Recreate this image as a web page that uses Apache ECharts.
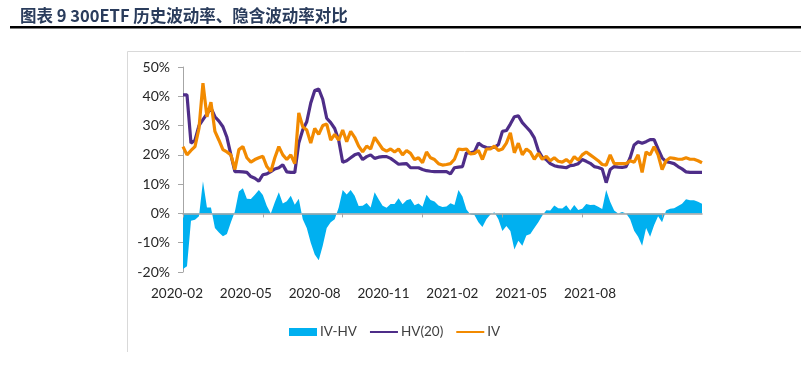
<!DOCTYPE html>
<html><head><meta charset="utf-8">
<script src="https://cdn.jsdelivr.net/npm/echarts@6/dist/echarts.min.js"></script>
<style>html,body{margin:0;padding:0;background:#fff}#c{width:801px;height:367px}</style>
</head><body><div id="c"></div>
<script>
const titleText = '图表 9 300ETF 历史波动率、隐含波动率对比';
const dateLabels = ['2020-02','2020-05','2020-08','2020-11','2021-02','2021-05','2021-08'];
const seriesNames = ['IV-HV','HV(20)','IV'];
const yMin = -20, yMax = 50, yStep = 10;

const hv = [40.5,40.5,24,25,30,32,34,36,33,31.5,
29.6,26,20,14.3,14.3,14.2,14,12.6,12,11,
13.2,13.5,14.3,15.2,15.6,16.6,14.2,14,14,24,
28.6,31.3,37.7,42,42.5,39,32.5,31,29,25,
17.5,18,19,20,20.5,18.4,19.4,20,18.8,19.2,
19.4,19.4,18.8,17.8,16.8,16.9,17,15.6,15.6,15.6,
15,14.6,14.4,14.3,14.3,14.3,14.3,13.5,15.6,15.8,
16,20.7,20.7,21,24,23,22.5,22.4,22.6,23.5,
28,28.3,30.5,33,33.3,31,29.5,28,25.8,21.5,
19.2,18.4,17,16.3,16,15.8,15.6,16.3,16.5,17,
18.4,17.8,17.1,16,15.7,15.2,10.5,15,16,15.8,
15.7,16,19,23.4,24.5,24,24.5,25.2,25.2,22,
19,17.7,17.4,17,16,15.2,14.2,14,14,14,14];

const iv = [22.8,20,21.5,22.8,29,44.5,33,38,28,25,
21.8,21,20,15,21.8,22.8,19,17.5,18.4,19,
19.5,16,14.3,19,22.8,20,18.4,20,17,34.3,
29.6,28.5,24,29,27,30,30.5,25,27,25,
28.5,24.5,28,26,23,21,23,22,26,24,
22,21.3,22,21,22,20,21.5,20.5,18.4,19,
17.3,21,19,18.4,17,16.5,16.7,17,18.5,22,
21.8,22,20.3,20.5,21.5,18.4,22,22,23,21.5,
22,24,27.5,20.7,24,20,22,21,18.5,20.5,
18.5,19.5,18,19,17.8,17.5,18.4,17.3,19.4,18.2,
20,21,20,19,18,16.7,16.5,20,17,17,
17,17,18,17.5,20,14,21,20,22.8,20,
15,18,19,18.8,18.5,18.5,19,18.5,18.5,18,17.3];

const ivhv = [-19,-18,-2.5,-2.2,-1,11,2,2,-5,-6.5,
-7.8,-7,-3,0.7,7.5,8.6,5,4.9,6.4,8,
6.3,2.5,0,3.8,7.2,3.4,4.2,6,3,5,
-2,-5,-10,-14,-16,-11,-5,-3,-2,2,
8,6.5,8,6,2.5,2.6,3.6,2,7.2,4.8,
2.6,1.9,3.2,3.2,5.2,3.1,4.5,4.9,2.8,3.4,
2.3,6.4,4.6,4.1,2.7,2.2,2.4,3.5,2.9,8,
5.8,1.3,-0.4,-0.5,-3,-4.6,-2,-0.4,0.4,-2,
-6,-4.3,-6,-12.3,-9.3,-11,-7.5,-7,-5,-3,
-0.7,1.1,1,2.7,1.8,1.7,2.8,1,2.9,1.2,
1.6,3.2,2.9,3,2.3,1.5,8,4,1,0,
0.5,0,-2,-5.9,-8,-11,-5,-8,-4,-1,
-3,1,1.6,1.8,2.5,3.3,4.8,4.5,4.5,4,3.3];

const days = hv.map((_, i) => String(i));
const FONT = 'Lato';
const chart = echarts.init(document.getElementById('c'), null, {renderer: 'canvas'});
chart.setOption({
  animation: false,
  backgroundColor: '#fff',
  title: {
    text: titleText, left: 15, top: 2,
    textStyle: {fontFamily: 'Noto Sans CJK SC', fontSize: 16.5, fontWeight: 'bold', color: '#2a3c5c'}
  },
  graphic: [
    {type: 'rect', shape: {x: 10, y: 26, width: 791, height: 2.5}, style: {fill: '#000'}, silent: true},
    {type: 'line', shape: {x1: 127.5, y1: 51.5, x2: 127.5, y2: 352}, style: {stroke: '#d9d9d9', lineWidth: 1}, silent: true},
    {type: 'line', shape: {x1: 127.5, y1: 51.5, x2: 801, y2: 51.5}, style: {stroke: '#d9d9d9', lineWidth: 1}, silent: true}
  ],
  legend: {
    left: 284, top: 320, itemWidth: 28, itemHeight: 8, itemGap: 12,
    textStyle: {fontFamily: FONT, fontSize: 13.5, color: '#404040', padding: [0, 0, 0, -2]},
    data: [
      {name: seriesNames[0], icon: 'rect'},
      {name: seriesNames[1], itemStyle: {opacity: 0}},
      {name: seriesNames[2], itemStyle: {opacity: 0}}
    ]
  },
  grid: [
    {left: 183, top: 67, width: 519, height: 205},
    {left: 142.6, top: 270, width: 481.8, height: 2}
  ],
  xAxis: [
    {type: 'category', gridIndex: 0, data: days, boundaryGap: false, z: 5,
     axisLine: {onZero: true, lineStyle: {color: '#a6a6a6', width: 1.5}},
     axisTick: {show: true, interval: 19, length: 4, inside: false, lineStyle: {color: '#a6a6a6'}},
     axisLabel: {show: false}, splitLine: {show: false}},
    {type: 'category', gridIndex: 1, data: dateLabels, boundaryGap: true,
     axisLine: {show: false}, axisTick: {show: false}, splitLine: {show: false},
     axisLabel: {margin: 15, fontFamily: FONT, fontSize: 13.5, color: '#262626'}}
  ],
  yAxis: [
    {type: 'value', gridIndex: 0, min: yMin, max: yMax, interval: yStep,
     axisLine: {show: true, lineStyle: {color: '#a6a6a6'}},
     axisTick: {show: true, length: 5, lineStyle: {color: '#a6a6a6'}},
     splitLine: {show: false},
     axisLabel: {formatter: '{value}%', margin: 13, fontFamily: FONT, fontSize: 14, color: '#262626'}},
    {type: 'value', gridIndex: 1, show: false}
  ],
  series: [
    {name: seriesNames[0], type: 'line', data: ivhv, symbol: 'none', color: '#00b0f0',
     lineStyle: {width: 0}, areaStyle: {color: '#00b0f0', opacity: 1}},
    {name: seriesNames[1], type: 'line', data: hv, symbol: 'none', color: '#4e2d88',
     lineStyle: {width: 3.2, color: '#4e2d88'}},
    {name: seriesNames[2], type: 'line', data: iv, symbol: 'none', color: '#f28a00',
     lineStyle: {width: 3.2, color: '#f28a00'}}
  ]
});
</script>
</body></html>
